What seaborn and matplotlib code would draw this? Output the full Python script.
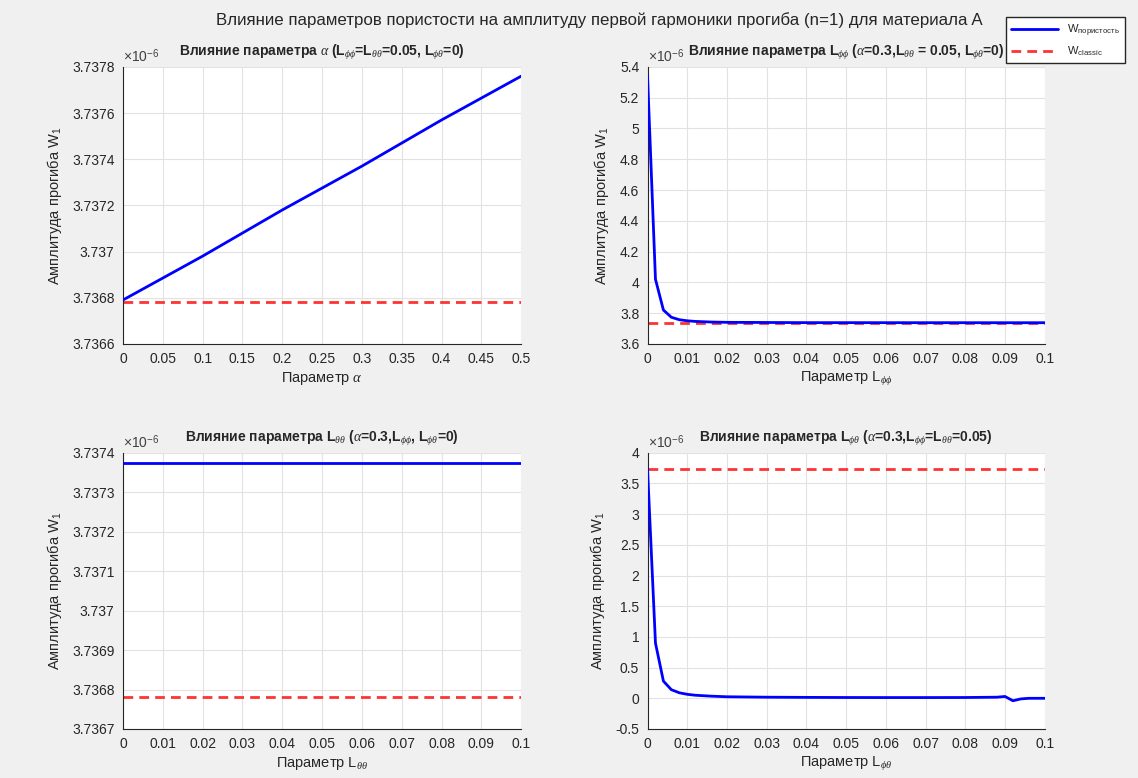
import numpy as np
import pandas as pd
import seaborn as sns
import matplotlib.pyplot as plt
from matplotlib.ticker import FuncFormatter, MultipleLocator

# all deflection values are in units of 1e-6
w_classic = 3.73678

# subplot 1: parameter alpha
alpha_vals = [0.0, 0.1, 0.2, 0.3, 0.4, 0.5]
w_alpha = [3.73679, 3.73698, 3.73718, 3.73737, 3.73757, 3.73776]

# subplot 2: parameter L_phiphi
lpp_vals = [0.0, 0.002, 0.004, 0.006, 0.008, 0.010, 0.012, 0.014, 0.016, 0.018,
            0.020, 0.030, 0.040, 0.050, 0.060, 0.070, 0.080, 0.090, 0.100]
w_lpp = [5.344, 4.02, 3.82, 3.773, 3.757, 3.750, 3.746, 3.744, 3.742, 3.741,
         3.740, 3.739, 3.738, 3.738, 3.7378, 3.7377, 3.7376, 3.7375, 3.7375]

# subplot 3: parameter L_thetatheta
ltt_vals = [0.0, 0.02, 0.04, 0.06, 0.08, 0.1]
w_ltt = [3.737375, 3.737375, 3.737375, 3.737375, 3.737375, 3.737375]

# subplot 4: parameter L_phitheta
lpt_vals = [0.0, 0.002, 0.004, 0.006, 0.008, 0.010, 0.012, 0.016, 0.020, 0.030,
            0.040, 0.050, 0.060, 0.070, 0.080, 0.088, 0.090, 0.092, 0.094, 0.096, 0.100]
w_lpt = [3.74, 0.90, 0.28, 0.14, 0.09, 0.065, 0.05, 0.035, 0.025, 0.018,
         0.015, 0.013, 0.012, 0.012, 0.013, 0.018, 0.03, -0.04, -0.01, 0.0, 0.0]

suptitle = "Влияние параметров пористости на амплитуду первой гармоники прогиба (n=1) для материала A"
titles = [
    r"Влияние параметра $\alpha$ (L$_{\phi\phi}$=L$_{\theta\theta}$=0.05, L$_{\phi\theta}$=0)",
    r"Влияние параметра L$_{\phi\phi}$ ($\alpha$=0.3,L$_{\theta\theta}$ = 0.05, L$_{\phi\theta}$=0)",
    r"Влияние параметра L$_{\theta\theta}$ ($\alpha$=0.3,L$_{\phi\phi}$, L$_{\phi\theta}$=0)",
    r"Влияние параметра L$_{\phi\theta}$ ($\alpha$=0.3,L$_{\phi\phi}$=L$_{\theta\theta}$=0.05)",
]
xlabels = [r"Параметр $\alpha$", r"Параметр L$_{\phi\phi}$",
           r"Параметр L$_{\theta\theta}$", r"Параметр L$_{\phi\theta}$"]
ylabel = r"Амплитуда прогиба W$_1$"

sns.set_style("white")
plt.rcParams['font.family'] = ['Liberation Sans', 'DejaVu Sans']
plt.rcParams['mathtext.fontset'] = 'custom'
plt.rcParams['mathtext.rm'] = 'Liberation Sans'
plt.rcParams['mathtext.it'] = 'Liberation Serif:italic'
plt.rcParams['mathtext.bf'] = 'Liberation Sans:bold'

fig = plt.figure(figsize=(11.38, 7.78), dpi=100, facecolor='#f0f0f0')

positions = [[0.108, 0.558, 0.350, 0.356], [0.569, 0.558, 0.349, 0.356],
             [0.108, 0.063, 0.350, 0.355], [0.569, 0.063, 0.349, 0.355]]
panels = [
    (alpha_vals, w_alpha, (0, 0.5), 0.05, (3.7366, 3.7378), 0.0002),
    (lpp_vals, w_lpp, (0, 0.1), 0.01, (3.6, 5.4), 0.2),
    (ltt_vals, w_ltt, (0, 0.1), 0.01, (3.7367, 3.7374), 0.0001),
    (lpt_vals, w_lpt, (0, 0.1), 0.01, (-0.5, 4.0), 0.5),
]

fmt = FuncFormatter(lambda v, p: '%g' % round(v, 6))
axes = []
for i, (xs, ys, xlim, xstep, ylim, ystep) in enumerate(panels):
    ax = fig.add_axes(positions[i])
    ax.set_facecolor('white')
    df = pd.DataFrame({'x': xs, 'w': ys})
    sns.lineplot(data=df, x='x', y='w', ax=ax, color='#0000ff', linewidth=2,
                 label=r'W$_{\mathrm{пористость}}$', zorder=3)
    ref = pd.DataFrame({'x': list(xlim), 'w': [w_classic, w_classic]})
    sns.lineplot(data=ref, x='x', y='w', ax=ax, color='#ff3333', linewidth=2,
                 linestyle=(0, (3.5, 2.2)), label=r'W$_{\mathrm{classic}}$', zorder=2)
    ax.set_xlim(xlim)
    ax.set_ylim(ylim)
    ax.xaxis.set_major_locator(MultipleLocator(xstep))
    ax.yaxis.set_major_locator(MultipleLocator(ystep))
    ax.xaxis.set_major_formatter(fmt)
    ax.yaxis.set_major_formatter(fmt)
    ax.grid(True, color='#e2e2e2', linewidth=0.8)
    for s in ['top', 'right']:
        ax.spines[s].set_visible(False)
    for s in ['left', 'bottom']:
        ax.spines[s].set_color('#262626')
        ax.spines[s].set_linewidth(0.8)
    ax.tick_params(direction='in', length=4, width=0.8, colors='#262626',
                   labelsize=10, pad=6)
    ax.set_title(titles[i], fontsize=10, fontweight='bold', pad=8)
    ax.set_xlabel(xlabels[i], fontsize=10.5, color='#262626', labelpad=3)
    ax.set_ylabel(ylabel, fontsize=10.5, color='#262626', labelpad=6)
    ax.text(0.0, 1.006, r'$\times$10$^{-6}$', transform=ax.transAxes, fontsize=10,
            color='#404040', ha='left', va='bottom')
    ax.get_legend().remove()
    axes.append(ax)

handles, labels = axes[0].get_legend_handles_labels()
leg = fig.legend(handles, labels, loc='upper right', bbox_to_anchor=(0.9935, 0.985),
                 fontsize=8, handlelength=4.2, fancybox=False, framealpha=1,
                 edgecolor='#262626', borderpad=0.5)
leg.get_frame().set_linewidth(1.0)

fig.text(0.527, 0.974, suptitle, ha='center', va='center', fontsize=12.2, color='#262626')

fig.savefig('out.png', dpi=100, facecolor=fig.get_facecolor())
